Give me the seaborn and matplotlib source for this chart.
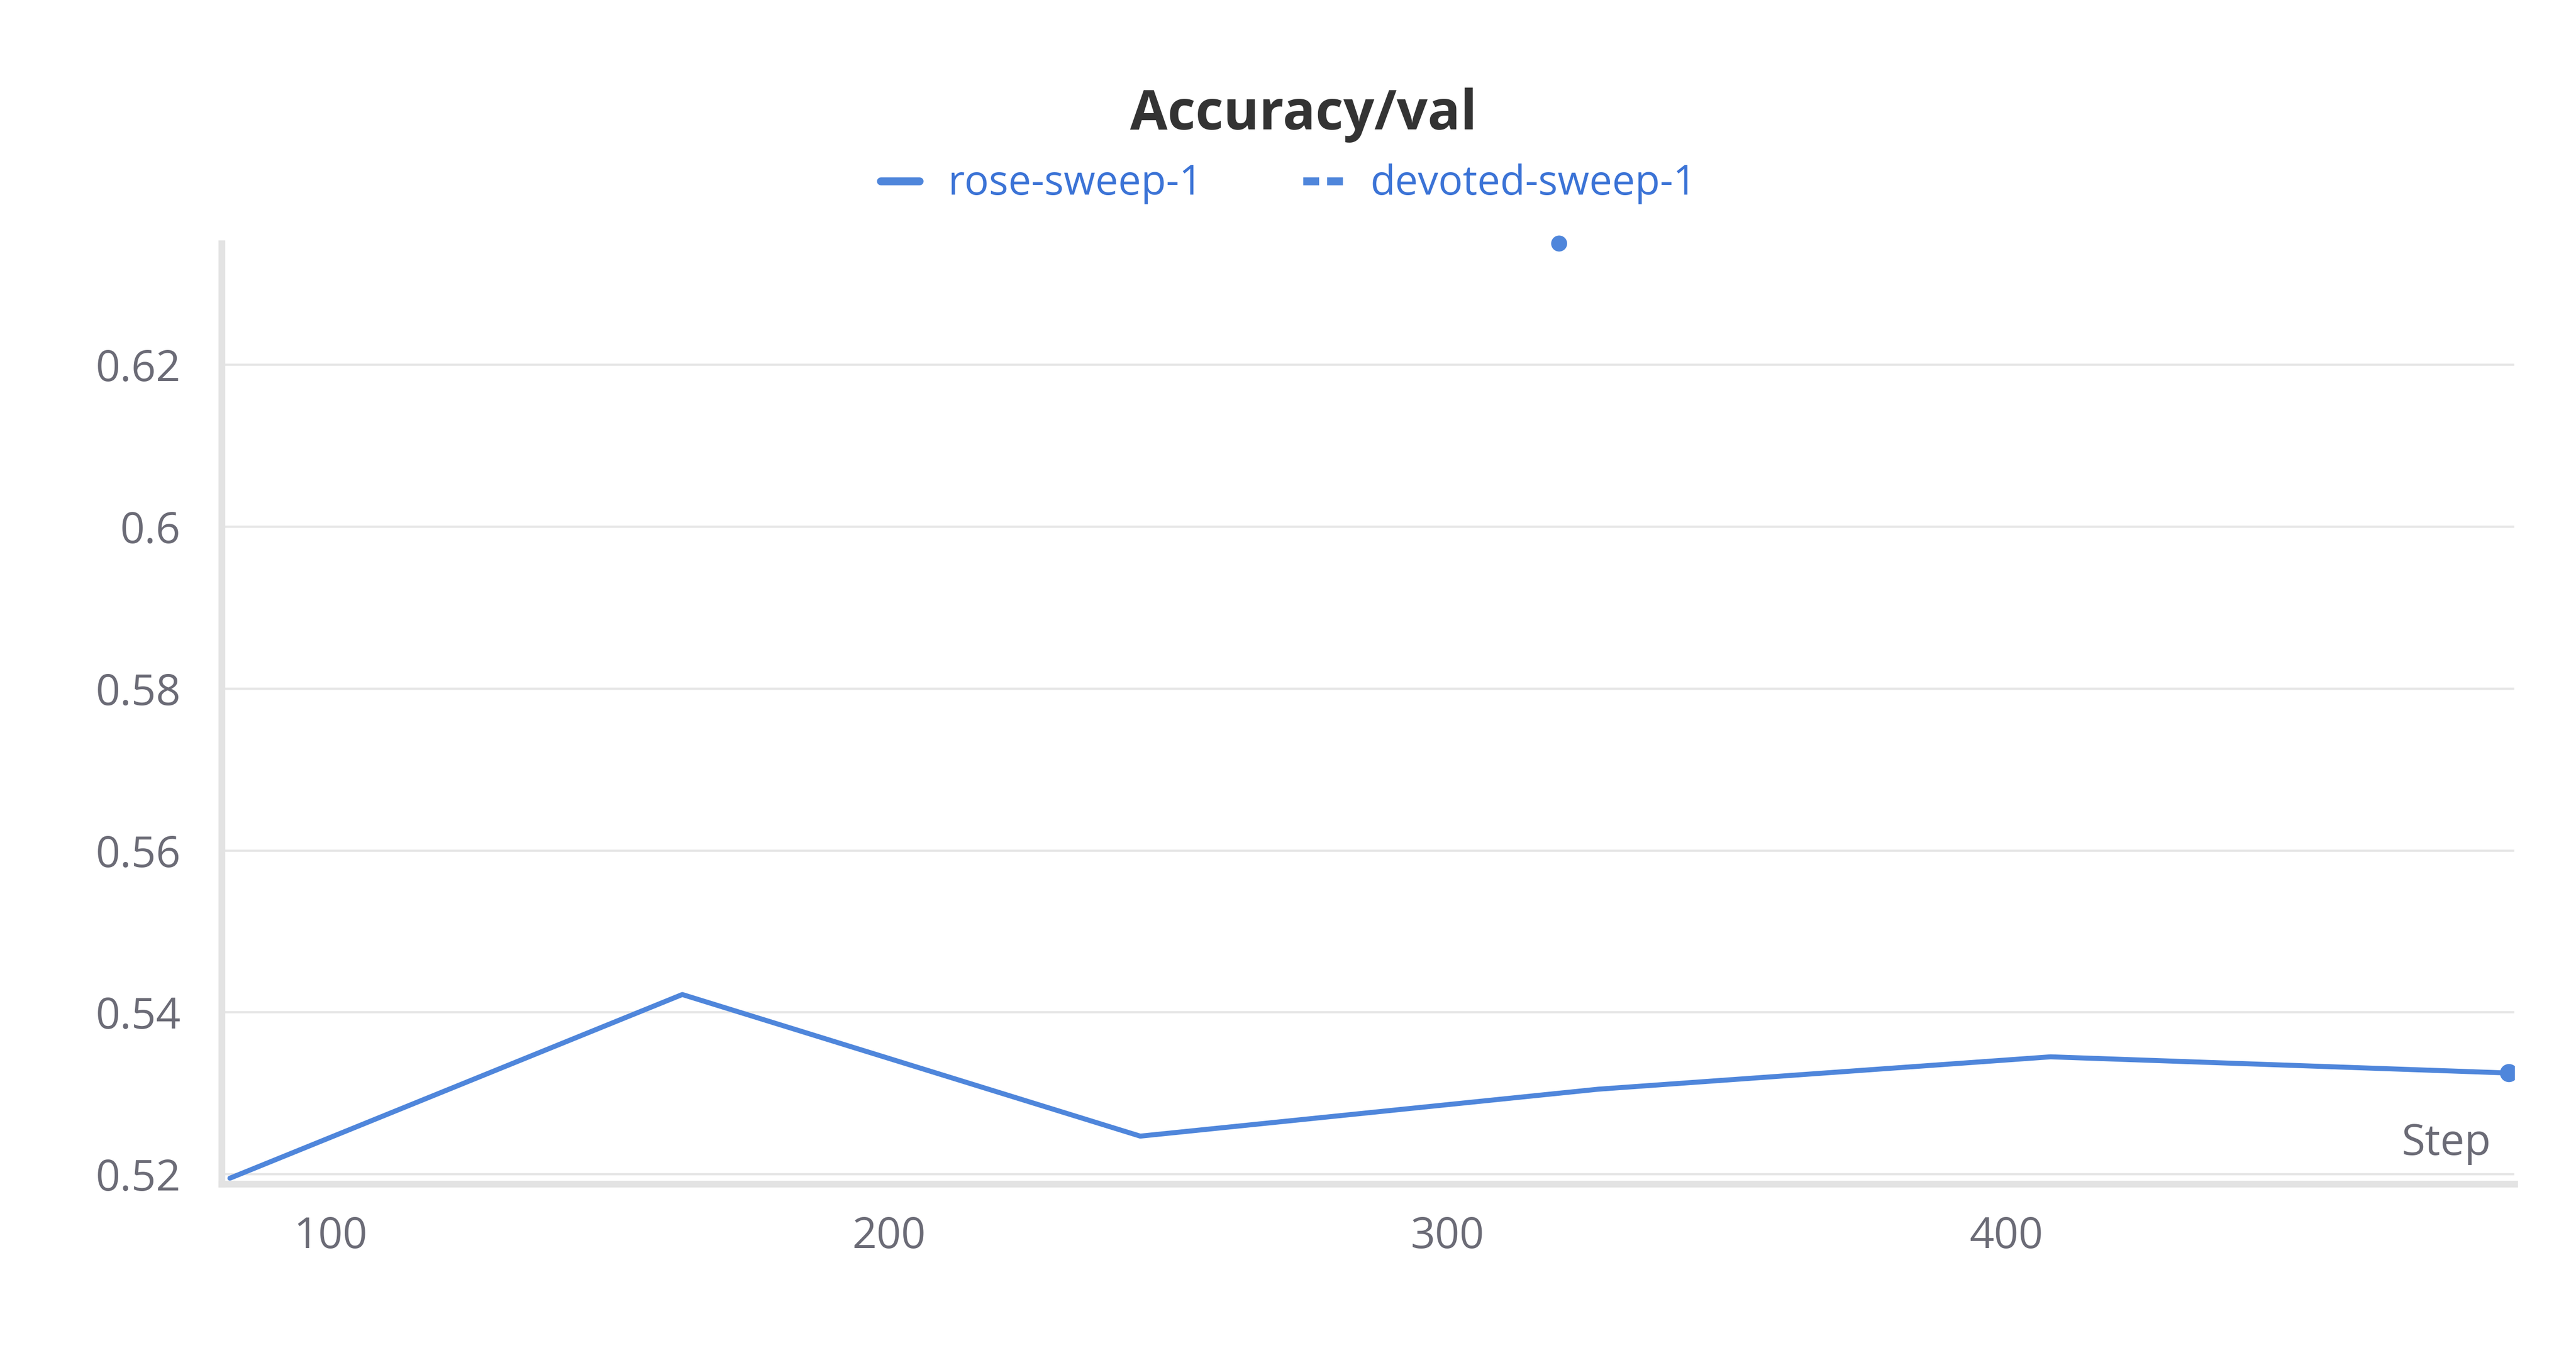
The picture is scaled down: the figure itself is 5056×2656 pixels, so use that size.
import matplotlib
matplotlib.use("Agg")
import matplotlib.pyplot as plt
import seaborn as sns
import pandas as pd

steps = [82, 163, 245, 327, 408, 490]
rose_acc = [0.5195, 0.5422, 0.5247, 0.5305, 0.5345, 0.5325]
devoted_steps = [320]
devoted_acc = [0.635]
yticks = [0.52, 0.54, 0.56, 0.58, 0.6, 0.62]
ytick_labels = ["0.52", "0.54", "0.56", "0.58", "0.6", "0.62"]
xticks = [100, 200, 300, 400]

sns.set_theme(style="white")
plt.rcParams['font.family'] = ['Open Sans', 'DejaVu Sans']
color = "#4f86db"
fig = plt.figure(figsize=(15.8, 8.3), dpi=320)
ax = fig.add_axes([0.086, 0.125, 0.890, 0.695])
df = pd.DataFrame({"Step": steps, "acc": rose_acc})
sns.lineplot(data=df, x="Step", y="acc", ax=ax, color=color, lw=2.2)
ax.plot(steps[-1:], rose_acc[-1:], "o", color=color, ms=7)
dd = pd.DataFrame({"Step": devoted_steps, "acc": devoted_acc})
sns.scatterplot(data=dd, x="Step", y="acc", ax=ax, color=color, s=50, edgecolor="none", clip_on=False)
ax.set_xlim(80.5, 491)
ax.set_ylim(0.5188, 0.635)
ax.set_yticks(yticks)
ax.set_yticklabels(ytick_labels)
ax.set_xticks(xticks)
ax.grid(axis="y", color="#e6e6e6", lw=1)
for s in ["top", "right"]:
    ax.spines[s].set_visible(False)
for s in ["left", "bottom"]:
    ax.spines[s].set_color("#e3e3e3")
    ax.spines[s].set_linewidth(3)
ax.tick_params(axis="y", length=12, width=1.2, color="#e3e3e3", labelsize=19, labelcolor="#6b6b76", direction="out", pad=6)
ax.tick_params(axis="x", length=12, width=1.2, color="#e3e3e3", labelsize=19, labelcolor="#6b6b76", direction="in", pad=14)
ax.set_xlabel("")
ax.set_ylabel("")
ax.text(0.99, 0.02, "Step", transform=ax.transAxes, ha="right", va="bottom", fontsize=19, color="#6b6b76")
fig.text(0.506, 0.915, "Accuracy/val", ha="center", va="center", fontsize=24, fontweight="bold", color="#333333")
fig.lines.append(plt.Line2D([0.342, 0.357], [0.866, 0.866], transform=fig.transFigure, color=color, lw=3.5))
fig.text(0.368, 0.864, "rose-sweep-1", ha="left", va="center", fontsize=18, color="#3b73d6")
fig.lines.append(plt.Line2D([0.506, 0.522], [0.866, 0.866], transform=fig.transFigure, color=color, lw=3.5, ls=(0, (2, 1))))
fig.text(0.532, 0.864, "devoted-sweep-1", ha="left", va="center", fontsize=18, color="#3b73d6")
fig.savefig("out.png", dpi=320, facecolor="white")
